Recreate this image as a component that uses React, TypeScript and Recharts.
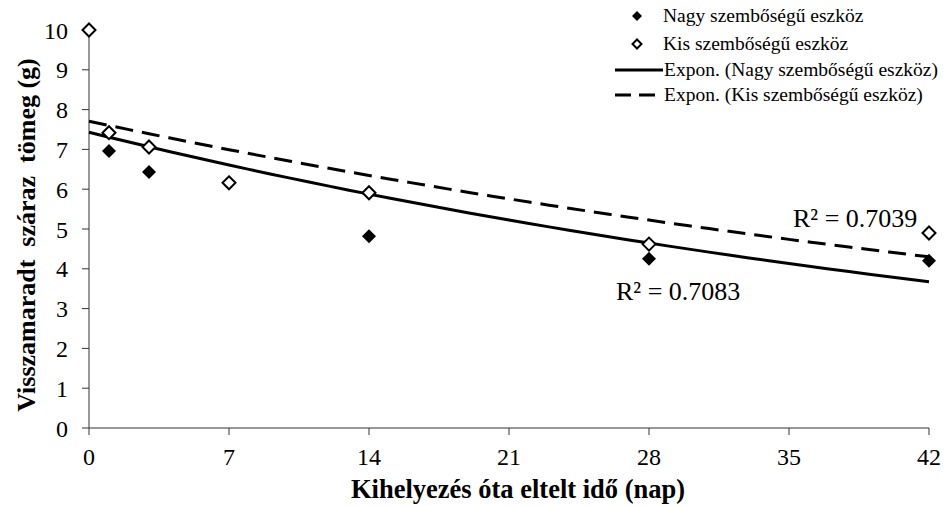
import React from 'react';
import { ScatterChart, Scatter, XAxis, YAxis, ReferenceDot } from 'recharts';

// days since placement
const nagyDays = [0, 1, 3, 14, 28, 42];
const nagyMass = [10, 6.96, 6.43, 4.82, 4.25, 4.2];
const kisDays = [0, 1, 3, 7, 14, 28, 42];
const kisMass = [10, 7.42, 7.06, 6.16, 5.91, 4.62, 4.9];

const xTicks = [0, 7, 14, 21, 28, 35, 42];
const yTicks = [0, 1, 2, 3, 4, 5, 6, 7, 8, 9, 10];

const nagyR2 = { x: 26.35, y: 3.44, text: 'R² = 0.7083' };
const kisR2 = { x: 35.2, y: 5.28, text: 'R² = 0.7039' };

const FONT = 'Liberation Serif, Times New Roman, DejaVu Serif, serif';

const toPoints = (xs: number[], ys: number[]) => xs.map((x, i) => ({ x, y: ys[i] }));

// Excel style exponential trendline: least squares on ln(y)
const expFit = (xs: number[], ys: number[]) => {
  const n = xs.length;
  const ly = ys.map(v => Math.log(v));
  const mx = xs.reduce((a, b) => a + b, 0) / n;
  const my = ly.reduce((a, b) => a + b, 0) / n;
  let sxx = 0;
  let sxy = 0;
  xs.forEach((x, i) => {
    sxx += (x - mx) * (x - mx);
    sxy += (x - mx) * (ly[i] - my);
  });
  const b = sxy / sxx;
  const a = Math.exp(my - b * mx);
  const out: { x: number; y: number }[] = [];
  for (let d = 0; d <= 42; d += 1) out.push({ x: d, y: a * Math.exp(b * d) });
  return out;
};

const nagyData = toPoints(nagyDays, nagyMass);
const kisData = toPoints(kisDays, kisMass);
const nagyTrend = expFit(nagyDays, nagyMass);
const kisTrend = expFit(kisDays, kisMass);

const diamond = (cx: number, cy: number, h: number) =>
  `M${cx},${cy - h} L${cx + h},${cy} L${cx},${cy + h} L${cx - h},${cy} Z`;

const FilledDiamond = (props: any) => <path d={diamond(props.cx, props.cy, 7)} fill="#000" />;
const OpenDiamond = (props: any) => (
  <path d={diamond(props.cx, props.cy, 6.5)} fill="#fff" stroke="#000" strokeWidth={2} />
);
const NoShape = () => <g />;

const XTick = (props: any) => (
  <text x={props.x} y={props.y} dy="0.71em" textAnchor="middle" fill="#000"
    style={{ fontFamily: FONT, fontSize: 24 }}>
    {props.payload.value}
  </text>
);

const YTick = (props: any) => (
  <text x={props.x} y={props.y} dy="0.355em" textAnchor="end" fill="#000"
    style={{ fontFamily: FONT, fontSize: 24 }}>
    {props.payload.value}
  </text>
);

const YTitle = (props: any) => {
  const vb = props.viewBox;
  const cy = vb.y + vb.height / 2 + 6;
  return (
    <text x={35} y={cy} transform={`rotate(-90, 35, ${cy})`} textAnchor="middle"
      style={{ fontFamily: FONT, fontWeight: 'bold', fontSize: 26, whiteSpace: 'pre' }} fill="#000">
      {'Visszamaradt  száraz  tömeg (g)'}
    </text>
  );
};

const XTitle = (props: any) => {
  const vb = props.viewBox;
  return (
    <text x={vb.x + vb.width / 2 + 9} y={498} textAnchor="middle"
      style={{ fontFamily: FONT, fontWeight: 'bold', fontSize: 26.5 }} fill="#000">
      Kihelyezés óta eltelt idő (nap)
    </text>
  );
};

const LegendBox = () => (
  <svg width={344} height={110} style={{ position: 'absolute', left: 600, top: 0 }}>
    <g style={{ fontFamily: FONT, fontSize: 19.5 }} fill="#000">
      <path d={diamond(37, 16, 5)} fill="#000" />
      <text x={63} y={22}>Nagy szembőségű eszköz</text>
      <path d={diamond(37, 44, 4.5)} fill="#fff" stroke="#000" strokeWidth={2} />
      <text x={63} y={50}>Kis szembőségű eszköz</text>
      <line x1={15} x2={63} y1={70} y2={70} stroke="#000" strokeWidth={3} />
      <text x={64} y={76}>Expon. (Nagy szembőségű eszköz)</text>
      <line x1={15} x2={63} y1={95} y2={95} stroke="#000" strokeWidth={3} strokeDasharray="16 8" />
      <text x={64} y={101}>Expon. (Kis szembőségű eszköz)</text>
    </g>
  </svg>
);

export default function App() {
  const r2Style = { fontSize: 26, fill: '#000', style: { fontFamily: FONT } };
  return (
    <div style={{ position: 'absolute', left: 0, top: 0, width: 944, height: 506, background: '#fff', fontFamily: FONT }}>
      <ScatterChart width={944} height={506} margin={{ top: 30, right: 15, bottom: 0, left: 0 }}>
        <XAxis type="number" dataKey="x" domain={[0, 42]} ticks={xTicks} interval={0}
          height={78} tickSize={7} tickMargin={13} tick={<XTick />} stroke="#333"
          label={<XTitle />} />
        <YAxis type="number" dataKey="y" domain={[0, 10]} ticks={yTicks} interval={0}
          width={89} tickSize={7} tickMargin={14} tick={<YTick />} stroke="#333"
          label={<YTitle />} />
        <Scatter data={nagyTrend} line={{ stroke: '#000', strokeWidth: 3 }} lineType="joint"
          shape={NoShape} isAnimationActive={false} />
        <Scatter data={kisTrend} line={{ stroke: '#000', strokeWidth: 3, strokeDasharray: '18 9' }}
          lineType="joint" shape={NoShape} isAnimationActive={false} />
        <Scatter data={nagyData} shape={FilledDiamond} isAnimationActive={false} />
        <Scatter data={kisData} shape={OpenDiamond} isAnimationActive={false} />
        <ReferenceDot x={nagyR2.x} y={nagyR2.y} r={0} fill="none" stroke="none"
          label={{ value: nagyR2.text, position: 'right', offset: 0, ...r2Style }} />
        <ReferenceDot x={kisR2.x} y={kisR2.y} r={0} fill="none" stroke="none"
          label={{ value: kisR2.text, position: 'right', offset: 0, ...r2Style }} />
      </ScatterChart>
      <LegendBox />
    </div>
  );
}
